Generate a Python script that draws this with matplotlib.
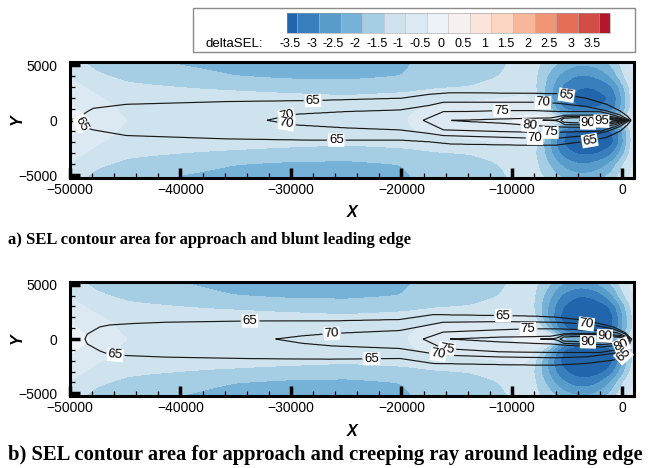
import numpy as np
import matplotlib
matplotlib.use('Agg')
import matplotlib.pyplot as plt
from matplotlib.colors import ListedColormap, BoundaryNorm
from matplotlib.patches import Rectangle
import matplotlib.transforms as mtransforms

plt.rcParams['font.family'] = ['Liberation Sans', 'DejaVu Sans']

# ---------------- legend (deltaSEL) ----------------
dsel_levels = [-3.5, -3, -2.5, -2, -1.5, -1, -0.5, 0, 0.5, 1, 1.5, 2, 2.5, 3, 3.5]
dsel_colors = ['#2166ac', '#3a7fbd', '#579ccb', '#76b1d7', '#a5cde3', '#cfe3ef',
               '#dde9f2', '#ecf2f7', '#f6f1ee', '#fbe5da', '#fdd6c2', '#f7b79a',
               '#f19675', '#e36f58', '#d14d46', '#b2182b']

# ---------------- deltaSEL control values ----------------
grid_x = [-50000, -48000, -45000, -40000, -35000, -30000, -25000, -20000, -17000,
          -14000, -11000, -8500, -7000, -5500, -4000, -2500, -1000, 0, 1000]
grid_y = [5250, 4000, 3000, 2000, 1000, 400, 0, -400, -1000, -2000, -3000, -4000, -5250]

dsel_a = [
    [-1.3, -1.6, -1.8, -2.05, -2.2, -2.3, -2.3, -2.1, -1.8, -1.7, -1.6, -1.2, -1.6, -2.1, -2.4, -2.3, -1.9, -1.3, -0.8],
    [-1.0, -1.4, -1.6, -1.8, -2.0, -2.1, -2.1, -2.0, -1.7, -1.6, -1.5, -1.1, -1.9, -2.7, -3.1, -3.0, -2.5, -1.6, -0.9],
    [-0.8, -1.1, -1.4, -1.5, -1.6, -1.7, -1.8, -1.7, -1.55, -1.5, -1.4, -1.1, -2.0, -3.1, -3.5, -3.5, -3.2, -2.2, -1.0],
    [-0.6, -0.9, -1.2, -1.3, -1.3, -1.35, -1.4, -1.3, -1.2, -1.1, -1.0, -0.9, -2.0, -3.3, -3.7, -3.7, -3.5, -2.5, -1.0],
    [-0.4, -0.7, -1.1, -1.2, -1.2, -1.2, -1.25, -1.1, -0.9, -0.8, -0.7, -0.6, -1.5, -3.0, -3.5, -3.5, -3.3, -2.4, -1.0],
    [-0.3, -0.6, -1.05, -1.15, -1.15, -1.15, -1.2, -1.05, -0.85, -0.75, -0.65, -0.45, -0.5, -2.0, -2.4, -2.4, -2.3, -1.8, -0.9],
    [-0.2, -0.5, -1.0, -1.1, -1.15, -1.15, -1.2, -1.05, -0.8, -0.7, -0.6, -0.3, 0.2, -1.2, -1.4, -1.4, -1.4, -1.3, -0.8],
    [-0.3, -0.6, -1.05, -1.15, -1.15, -1.15, -1.2, -1.05, -0.85, -0.75, -0.65, -0.45, -0.6, -2.3, -2.7, -2.7, -2.5, -1.9, -0.9],
    [-0.4, -0.7, -1.1, -1.2, -1.2, -1.2, -1.25, -1.1, -0.9, -0.8, -0.7, -0.6, -1.7, -3.4, -3.9, -3.9, -3.7, -2.6, -1.0],
    [-0.6, -0.9, -1.2, -1.3, -1.3, -1.35, -1.4, -1.3, -1.2, -1.1, -1.0, -0.9, -2.1, -3.5, -4.0, -4.0, -3.8, -2.7, -1.0],
    [-0.8, -1.1, -1.4, -1.5, -1.6, -1.7, -1.8, -1.7, -1.55, -1.5, -1.4, -1.1, -2.0, -3.2, -3.6, -3.6, -3.2, -2.2, -1.0],
    [-1.0, -1.4, -1.6, -1.8, -2.0, -2.1, -2.1, -2.0, -1.7, -1.6, -1.5, -1.1, -1.8, -2.6, -3.0, -2.9, -2.4, -1.5, -0.9],
    [-1.3, -1.6, -1.8, -2.05, -2.2, -2.3, -2.3, -2.1, -1.8, -1.7, -1.6, -1.2, -1.5, -2.0, -2.3, -2.2, -1.8, -1.2, -0.8],
]

dsel_b = [
    [-1.3, -1.6, -1.8, -2.0, -2.2, -2.3, -2.3, -2.1, -1.8, -1.7, -1.6, -1.2, -1.7, -2.4, -2.7, -2.5, -1.9, -1.2, -0.8],
    [-1.0, -1.4, -1.6, -1.8, -2.0, -2.1, -2.1, -2.0, -1.7, -1.6, -1.5, -1.1, -2.1, -3.1, -3.5, -3.4, -2.7, -1.6, -0.9],
    [-0.8, -1.1, -1.4, -1.5, -1.6, -1.7, -1.8, -1.7, -1.55, -1.5, -1.4, -1.1, -2.3, -3.5, -3.9, -3.9, -3.5, -2.3, -1.1],
    [-0.6, -0.9, -1.2, -1.3, -1.3, -1.35, -1.4, -1.3, -1.2, -1.1, -1.0, -0.9, -2.3, -3.7, -4.1, -4.1, -3.8, -2.6, -1.2],
    [-0.4, -0.7, -1.1, -1.2, -1.2, -1.2, -1.25, -1.1, -0.9, -0.8, -0.7, -0.6, -1.7, -3.4, -4.0, -4.0, -3.7, -2.6, -1.2],
    [-0.3, -0.6, -1.05, -1.15, -1.15, -1.15, -1.2, -1.05, -0.85, -0.75, -0.65, -0.45, -0.6, -2.6, -3.0, -3.1, -2.9, -2.1, -1.1],
    [-0.2, -0.5, -1.0, -1.1, -1.15, -1.15, -1.2, -1.05, -0.8, -0.7, -0.6, -0.3, 0.1, -1.7, -2.0, -2.2, -2.1, -1.6, -1.0],
    [-0.3, -0.6, -1.05, -1.15, -1.15, -1.15, -1.2, -1.05, -0.85, -0.75, -0.65, -0.45, -0.6, -2.7, -3.1, -3.2, -3.0, -2.1, -1.1],
    [-0.4, -0.7, -1.1, -1.2, -1.2, -1.2, -1.25, -1.1, -0.9, -0.8, -0.7, -0.6, -1.7, -3.5, -4.1, -4.1, -3.8, -2.6, -1.2],
    [-0.6, -0.9, -1.2, -1.3, -1.3, -1.35, -1.4, -1.3, -1.2, -1.1, -1.0, -0.9, -2.3, -3.7, -4.1, -4.1, -3.8, -2.6, -1.2],
    [-0.8, -1.1, -1.4, -1.5, -1.6, -1.7, -1.8, -1.7, -1.55, -1.5, -1.4, -1.1, -2.3, -3.4, -3.8, -3.8, -3.3, -2.2, -1.1],
    [-1.0, -1.4, -1.6, -1.8, -2.0, -2.1, -2.1, -2.0, -1.7, -1.6, -1.5, -1.1, -2.0, -2.9, -3.3, -3.2, -2.5, -1.5, -0.9],
    [-1.3, -1.6, -1.8, -2.0, -2.2, -2.3, -2.3, -2.1, -1.8, -1.7, -1.6, -1.2, -1.6, -2.2, -2.5, -2.4, -1.8, -1.1, -0.8],
]

# ---------------- SEL contours: (x, upper half-width, lower half-width) ----------------
a65 = [(-49100, 0, 0), (-48900, 450, 450), (-48500, 750, 700), (-47900, 1090, 875),
       (-44900, 1455, 1390), (-35800, 1700, 1690), (-28000, 1790, 1800), (-20000, 2000, 1800),
       (-17500, 2350, 1950), (-15500, 2500, 2150), (-9300, 2450, 2250), (-6000, 2420, 2250),
       (-3300, 2000, 1900), (-1450, 1450, 1550), (-240, 850, 1000), (400, 400, 450), (750, 0, 0)]
a70 = [(-32200, 0, 0), (-29800, 545, 420), (-25000, 800, 700), (-20150, 943, 880),
       (-17500, 1350, 1200), (-16200, 1640, 1390), (-8000, 1640, 1630), (-5900, 1550, 1630),
       (-3250, 1245, 1390), (-1450, 850, 1030), (-240, 490, 570), (650, 0, 0)]
a75 = [(-18040, 0, 0), (-16200, 790, 876), (-14000, 800, 940), (-11000, 880, 1030),
       (-8000, 880, 1090), (-6000, 800, 1090), (-2000, 780, 1000), (-600, 420, 560), (550, 0, 0)]
a80 = [(-15930, 0, 0), (-14000, 30, 120), (-11000, 125, 270), (-8000, 185, 480),
       (-6500, 200, 560), (-5200, 450, 620), (-2000, 480, 660), (-600, 270, 380), (500, 0, 0)]
a85 = [(-7600, 0, 0), (-6000, 30, 30), (-5700, 120, 120), (-5200, 330, 400),
       (-2000, 330, 420), (-600, 190, 240), (400, 0, 0)]
a90 = [(-5600, 0, 0), (-5300, 190, 190), (-4500, 240, 230), (-2000, 220, 250),
       (-600, 130, 150), (300, 0, 0)]
a95 = [(-4000, 0, 0), (-3000, 60, 80), (-1000, 80, 100), (100, 0, 0)]

b65 = [(-48650, 0, 0), (-48450, 450, 450), (-47300, 1120, 1100), (-46400, 1300, 1450),
       (-44300, 1430, 1550), (-41300, 1550, 1670), (-33700, 1660, 1800), (-26500, 1660, 1850),
       (-20150, 1790, 1780), (-17130, 2240, 2240), (-11100, 2150, 2350), (-8000, 2100, 2390),
       (-5970, 2000, 2390), (-3250, 1700, 2240), (-840, 1100, 1940), (200, 600, 1450), (800, 0, 0)]
b70 = [(-31450, 0, 0), (-29000, 300, 400), (-26300, 520, 640), (-20150, 790, 878),
       (-16230, 1546, 1484), (-11100, 1605, 1650), (-5970, 1546, 1727), (-3250, 1395, 1636),
       (-840, 940, 1330), (300, 450, 800), (700, 0, 0)]
b75 = [(-18040, 0, 0), (-16230, 637, 878), (-11100, 850, 1180), (-8530, 940, 1220),
       (-5970, 940, 1240), (-2000, 790, 1240), (-500, 576, 1000), (300, 250, 600), (650, 0, 0)]
b80 = [(-15780, 0, 0), (-11100, 182, 272), (-8000, 220, 400), (-6500, 250, 450),
       (-5200, 480, 560), (-2000, 520, 720), (-90, 300, 575), (600, 0, 0)]
b85 = [(-7800, 0, 0), (-6200, 30, 30), (-5800, 150, 150), (-5300, 380, 400),
       (-2000, 420, 520), (-300, 230, 380), (450, 0, 0)]
b90 = [(-5670, 0, 0), (-5300, 200, 200), (-3100, 280, 270), (-1600, 300, 300),
       (0, 150, 180), (400, 0, 0)]

# label anchor positions (layout)
labels_a = [(-48850, -270), (-28000, 1760), (-25900, -1850), (-30400, 430), (-30400, -300),
            (-5070, 2180), (-7180, 1640), (-10950, 880), (-8390, -480), (-6500, -1150),
            (-7900, -1640), (-3110, -250), (-1900, -90), (-2960, -1940)]
labels_b = [(-33700, 1660), (-45900, -1450), (-26300, 520), (-22700, -1850), (-10800, 2090),
            (-8540, 940), (-15900, -1030), (-16700, -1640), (-3260, 1390), (-1600, 290),
            (-3110, -270), (-90, -575), (120, -1550)]

captions = ['a) SEL contour area for approach and blunt leading edge',
            'b) SEL contour area for approach and creeping ray around leading edge']

# ---------------- helpers ----------------
XF = np.linspace(-50000, 1050, 720)
YF = np.linspace(-5300, 5350, 300)


def halfwidths(table, xf, slope=0.5):
    t = np.array(table, float)
    xs = t[:, 0]
    out = []
    for w in (t[:, 1], t[:, 2]):
        h = np.interp(xf, xs, w)
        h = np.where(xf < xs[0], w[0] - slope * (xs[0] - xf), h)
        h = np.where(xf > xs[-1], w[-1] - slope * (xf - xs[-1]), h)
        out.append(h)
    return out


def sel_field(tables, xf, yf):
    levels = sorted(tables)
    ups, los = {}, {}
    pu = pl = None
    for L in levels:
        u, l = halfwidths(tables[L], xf)
        if pu is not None:
            u = np.minimum(u, pu - 15)
            l = np.minimum(l, pl - 15)
        ups[L], los[L] = u, l
        pu, pl = u, l
    desc = levels[::-1]
    Z = np.empty((len(yf), len(xf)))
    upper = yf >= 0
    for j in range(len(xf)):
        for W, m in ((ups, upper), (los, ~upper)):
            kp = [W[L][j] for L in desc]
            xp = [kp[0] - 1000] + kp + [kp[-1] + 5000]
            fp = [desc[0] + 5] + desc + [levels[0] - 5]
            Z[m, j] = np.interp(np.abs(yf[m]), xp, fp)
    return Z


def gauss(s):
    r = int(3 * s)
    t = np.arange(-r, r + 1)
    g = np.exp(-0.5 * (t / s) ** 2)
    return g / g.sum()


def dsel_field(grid, gx, gy, xf, yf, sx=6, sy=4):
    G = np.array(grid, float)
    gy = np.array(gy, float)
    o = np.argsort(gy)
    gy, G = gy[o], G[o]
    tmp = np.array([np.interp(xf, gx, row) for row in G])
    Z = np.array([np.interp(yf, gy, tmp[:, j]) for j in range(len(xf))]).T
    kx, ky = gauss(sx), gauss(sy)
    Zp = np.pad(Z, ((0, 0), (len(kx) // 2, len(kx) // 2)), mode='edge')
    Z = np.array([np.convolve(r, kx, 'valid') for r in Zp])
    Zp = np.pad(Z, ((len(ky) // 2, len(ky) // 2), (0, 0)), mode='edge')
    Z = np.array([np.convolve(c, ky, 'valid') for c in Zp.T]).T
    return Z


cmap = ListedColormap(dsel_colors[1:-1])
cmap.set_under(dsel_colors[0])
cmap.set_over(dsel_colors[-1])
norm = BoundaryNorm(dsel_levels, cmap.N)

fig = plt.figure(figsize=(6.48, 4.68), dpi=100)
W, H = 648.0, 468.0

panels = [
    dict(top=62, bot=178, dsel=dsel_a, tabs={65: a65, 70: a70, 75: a75, 80: a80, 85: a85, 90: a90, 95: a95},
         labels=labels_a, xlab=213, cap=240, cap_text=captions[0], cap_size=12),
    dict(top=281.5, bot=396, dsel=dsel_b, tabs={65: b65, 70: b70, 75: b75, 80: b80, 85: b85, 90: b90},
         labels=labels_b, xlab=431, cap=455, cap_text=captions[1], cap_size=14.9),
]

cf_first = None
for p in panels:
    ax = fig.add_axes([70 / W, 1 - p['bot'] / H, (634 - 70) / W, (p['bot'] - p['top']) / H])
    ax.set_xlim(-50000, 1050)
    ax.set_ylim(-5250, 5300)
    Zd = dsel_field(p['dsel'], grid_x, grid_y, XF, YF)
    cf = ax.contourf(XF, YF, Zd, levels=dsel_levels, cmap=cmap, norm=norm, extend='both')
    if cf_first is None:
        cf_first = cf
    Zs = sel_field(p['tabs'], XF, YF)
    lv = sorted(p['tabs'])
    cs = ax.contour(XF, YF, Zs, levels=lv, colors='#1a1a1a', linewidths=0.85)
    texts = ax.clabel(cs, lv, fmt='%d', fontsize=9.5, inline=True, inline_spacing=2,
                      manual=p['labels'])
    for t in texts:
        t.set_bbox(dict(boxstyle='square,pad=0.05', fc='white', ec='none'))
        t.set_color('black')

    ax.set_xticks(np.arange(-50000, 1, 10000))
    ax.set_xticks(np.arange(-50000, 1001, 2000), minor=True)
    ax.set_yticks([-5000, 0, 5000])
    ax.set_yticks(np.arange(-5000, 5001, 1000), minor=True)
    ax.tick_params(which='major', direction='in', length=7, width=2.5, top=False, right=False,
                   labelsize=10)
    ax.tick_params(which='minor', direction='in', length=3.5, width=0.9, top=False, right=False)
    ax.tick_params(axis='y', which='major', pad=9)
    ax.tick_params(axis='x', which='major', pad=3.5)
    for s in ax.spines.values():
        s.set_linewidth(2.2)
    ax.set_axisbelow(False)

    fig.text(352 / W, 1 - p['xlab'] / H, 'X', ha='center', va='center', fontsize=11.5,
             fontweight='bold', fontstyle='italic')
    fig.text(17 / W, 1 - (p['top'] + p['bot']) / 2 / H, 'Y', ha='center', va='center',
             rotation=90, fontsize=11.5, fontweight='bold', fontstyle='italic')
    fig.text(8 / W, 1 - p['cap'] / H, p['cap_text'], ha='left', va='center', fontsize=p['cap_size'],
             fontweight='bold', family=['Liberation Serif', 'DejaVu Serif'])

# ---------------- legend box ----------------
box = Rectangle((192.7 / W, 1 - 52 / H), (635 - 192.7) / W, (52 - 8) / H, transform=fig.transFigure,
                facecolor='white', edgecolor='#8a8a8a', linewidth=1.0, zorder=0)
fig.add_artist(box)
cax = fig.add_axes([286.7 / W, 1 - 33 / H, 323.3 / W, 20 / H])
cb = fig.colorbar(cf_first, cax=cax, orientation='horizontal', extendfrac=0.0357,
                  extendrect=True, ticks=dsel_levels, drawedges=True)
cb.outline.set_linewidth(0.4)
cb.outline.set_edgecolor('#999999')
cb.dividers.set_color('#bbbbbb')
cb.dividers.set_linewidth(0.4)
cax.tick_params(length=0, labelbottom=False)
off = mtransforms.ScaledTranslation(-7 / 100, 0, fig.dpi_scale_trans)
trans = mtransforms.blended_transform_factory(cax.transData, cax.transAxes) + off
for v in dsel_levels:
    cax.text(v, -0.55, f'{v:g}', transform=trans, ha='center', va='center', fontsize=9)
fig.text(205 / W, 1 - 44 / H, 'deltaSEL:', ha='left', va='center', fontsize=9.5)

fig.savefig('out.png', dpi=100)
